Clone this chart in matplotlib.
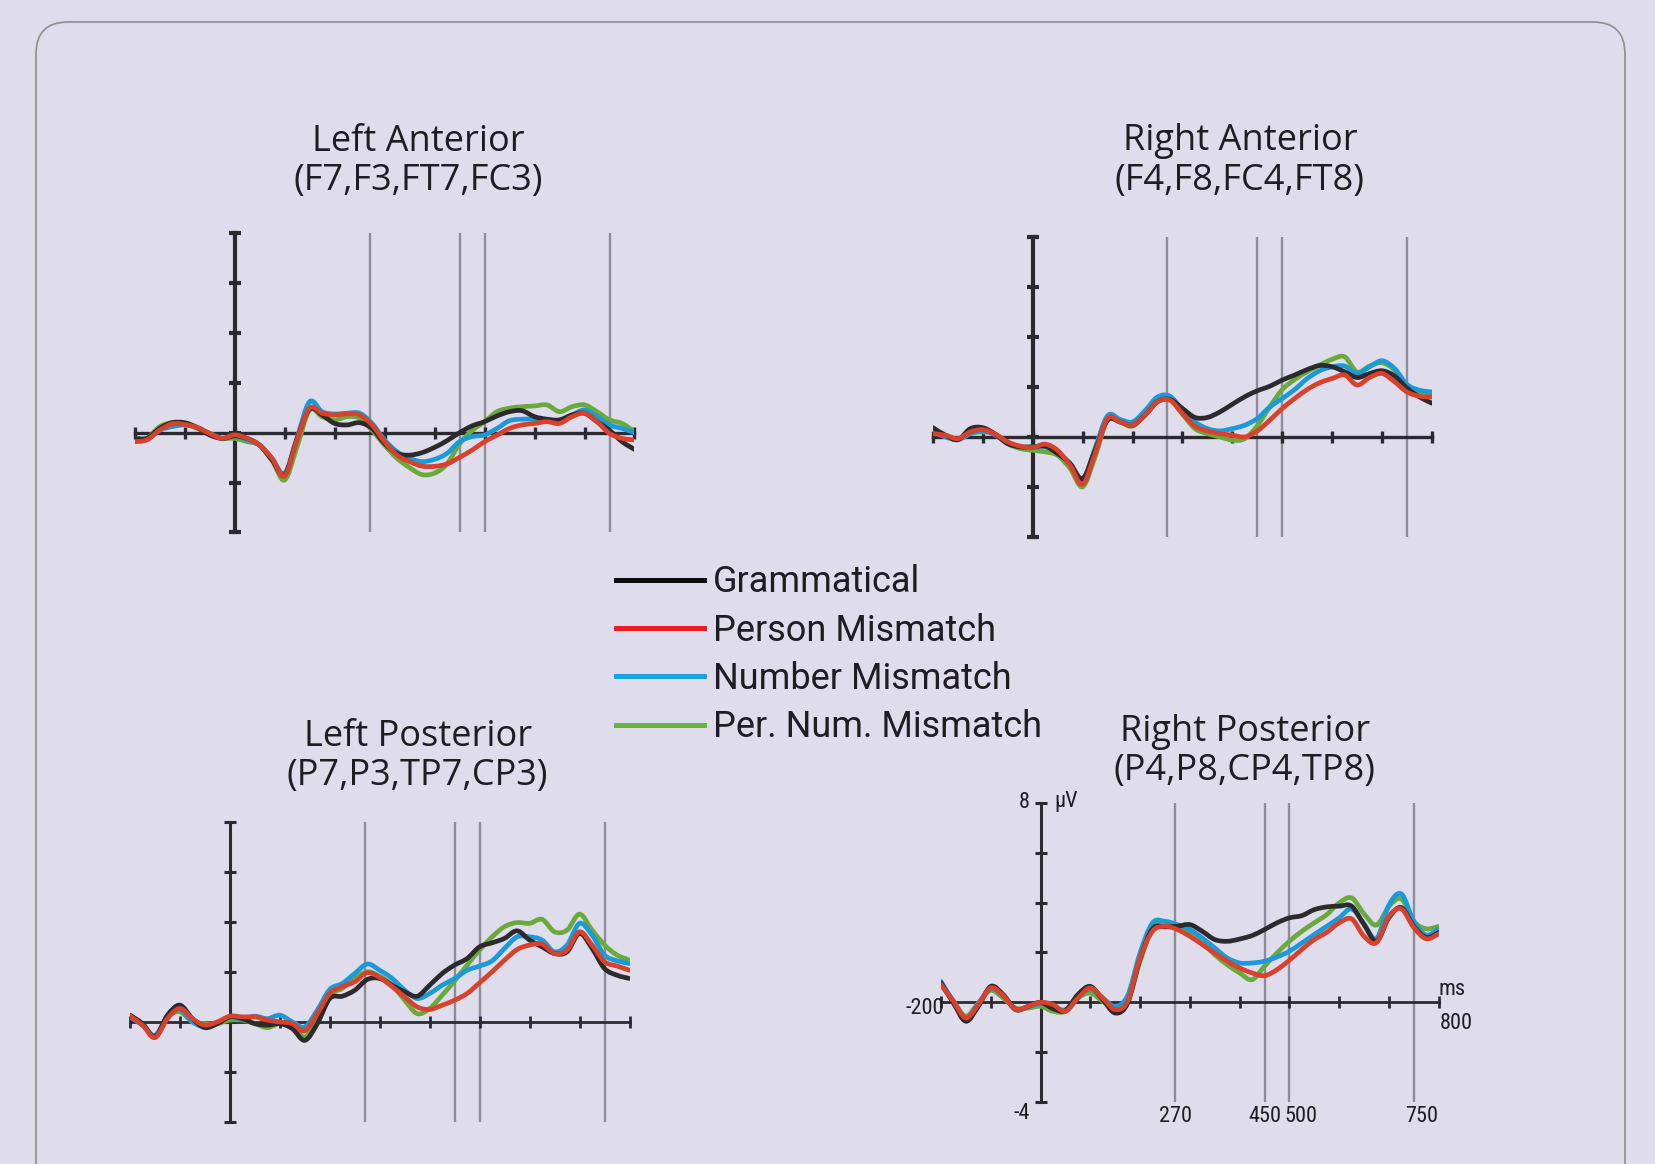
import matplotlib
matplotlib.use("Agg")
import matplotlib.pyplot as plt
from matplotlib import font_manager
from matplotlib.patches import FancyBboxPatch, PathPatch
from matplotlib.path import Path
from matplotlib.lines import Line2D

# ---------------------------------------------------------------- data
time_ms = list(range(-200, 801, 25))          # sample times (ms)
windows_ms = [270, 450, 500, 750]             # analysis window boundaries
y_ticks = [-4, -2, 0, 2, 4, 6, 8]             # µV
x_ticks = list(range(-200, 801, 100))         # ms

conditions = ["Grammatical", "Person Mismatch", "Number Mismatch",
              "Per. Num. Mismatch"]

# Left Anterior (F7,F3,FT7,FC3), µV
la_gram = [-0.23, -0.23, 0.17, 0.40, 0.40, 0.21, -0.09, -0.23,
           -0.13, -0.23, -0.50, -1.10, -1.70, -0.25, 0.94, 0.71,
           0.37, 0.31, 0.40, 0.17, -0.43, -0.83, -0.90, -0.80,
           -0.59, -0.32, 0.00, 0.27, 0.44, 0.67, 0.84, 0.88,
           0.64, 0.54, 0.51, 0.71, 0.78, 0.44, 0.10, -0.36, -0.67]
la_person = [-0.36, -0.29, 0.10, 0.35, 0.33, 0.21, -0.03, -0.23,
             -0.09, -0.23, -0.50, -1.03, -1.74, -0.30, 0.98, 0.78,
             0.71, 0.75, 0.71, 0.31, -0.36, -0.90, -1.16, -1.34,
             -1.35, -1.25, -0.99, -0.70, -0.36, -0.10, 0.17, 0.31,
             0.37, 0.44, 0.37, 0.64, 0.78, 0.44, -0.03, -0.23, -0.29]
la_number = [-0.23, -0.23, 0.10, 0.24, 0.31, 0.21, -0.03, -0.23,
             -0.13, -0.29, -0.50, -1.03, -1.63, -0.20, 1.24, 0.84,
             0.75, 0.78, 0.78, 0.37, -0.29, -0.76, -1.03, -1.16,
             -1.07, -0.83, -0.36, -0.16, -0.09, 0.17, 0.48, 0.54,
             0.54, 0.51, 0.51, 0.71, 0.91, 0.64, 0.31, 0.17, 0.00]
la_pernum = [-0.29, -0.23, 0.24, 0.40, 0.35, 0.17, -0.03, -0.23,
             -0.23, -0.36, -0.50, -1.10, -1.90, -0.56, 0.91, 0.64,
             0.51, 0.64, 0.58, 0.10, -0.50, -1.03, -1.40, -1.68,
             -1.62, -1.25, -0.45, 0.08, 0.44, 0.84, 0.98, 1.04,
             1.07, 1.11, 0.84, 1.04, 1.11, 0.84, 0.51, 0.37, 0.04]

# Right Anterior (F4,F8,FC4,FT8), µV
ra_gram = [0.37, 0.07, -0.11, 0.33, 0.37, 0.11, -0.27, -0.40,
           -0.40, -0.37, -0.67, -1.07, -1.67, -0.54, 0.67, 0.60,
           0.47, 0.87, 1.41, 1.50, 1.14, 0.78, 0.78, 1.00,
           1.31, 1.61, 1.85, 2.03, 2.28, 2.48, 2.70, 2.86,
           2.81, 2.61, 2.38, 2.54, 2.65, 2.44, 1.95, 1.60, 1.35]
ra_person = [0.13, 0.07, -0.07, 0.20, 0.29, 0.11, -0.20, -0.37,
             -0.43, -0.29, -0.54, -1.14, -1.90, -0.67, 0.74, 0.60,
             0.47, 0.87, 1.41, 1.47, 0.94, 0.43, 0.24, 0.13,
             0.07, 0.00, 0.24, 0.67, 1.14, 1.54, 1.90, 2.17,
             2.34, 2.48, 2.08, 2.38, 2.54, 2.21, 1.80, 1.63, 1.60]
ra_number = [0.20, 0.00, -0.11, 0.13, 0.24, 0.07, -0.27, -0.40,
             -0.40, -0.40, -0.64, -1.07, -1.74, -0.45, 0.85, 0.70,
             0.60, 1.05, 1.60, 1.63, 1.07, 0.60, 0.33, 0.24,
             0.33, 0.47, 0.74, 1.20, 1.54, 1.90, 2.34, 2.65,
             2.81, 2.84, 2.54, 2.81, 3.05, 2.74, 2.10, 1.87, 1.80]
ra_pernum = [0.20, 0.03, -0.11, 0.13, 0.20, 0.11, -0.27, -0.47,
             -0.54, -0.60, -0.74, -1.27, -2.00, -0.80, 0.70, 0.60,
             0.43, 0.91, 1.50, 1.50, 0.91, 0.33, 0.13, 0.00,
             -0.13, -0.07, 0.45, 1.20, 1.90, 2.30, 2.61, 2.88,
             3.11, 3.21, 2.60, 2.84, 2.97, 2.68, 2.05, 1.80, 1.74]

# Left Posterior (P7,P3,TP7,CP3), µV
lp_gram = [0.27, -0.07, -0.60, 0.27, 0.67, 0.13, -0.23, -0.07,
           0.20, 0.13, -0.07, -0.13, -0.07, -0.27, -0.74, -0.07,
           0.94, 1.03, 1.27, 1.70, 1.74, 1.47, 1.20, 1.03,
           1.47, 1.94, 2.28, 2.54, 3.01, 3.17, 3.35, 3.65,
           3.28, 3.01, 2.74, 2.81, 3.55, 2.95, 2.14, 1.87, 1.74]
lp_person = [0.23, -0.13, -0.63, 0.13, 0.54, 0.13, -0.13, 0.00,
             0.23, 0.20, 0.20, 0.07, 0.00, -0.07, -0.36, 0.33,
             1.14, 1.41, 1.61, 1.97, 1.78, 1.41, 1.00, 0.60,
             0.50, 0.67, 0.87, 1.14, 1.57, 2.01, 2.48, 2.90,
             3.08, 3.12, 2.74, 2.88, 3.61, 3.08, 2.41, 2.24, 2.07]
lp_number = [0.20, -0.13, -0.54, 0.20, 0.50, 0.00, -0.20, -0.04,
             0.20, 0.09, 0.23, 0.13, 0.27, 0.00, -0.20, 0.47,
             1.30, 1.54, 1.94, 2.32, 2.07, 1.74, 1.27, 0.94,
             1.14, 1.47, 1.74, 2.07, 2.24, 2.45, 2.95, 3.41,
             3.41, 3.28, 2.81, 3.08, 3.95, 3.48, 2.68, 2.45, 2.34]
lp_pernum = [0.20, -0.09, -0.58, 0.20, 0.40, 0.00, -0.07, -0.07,
             0.07, 0.07, -0.07, -0.23, -0.07, -0.20, -0.60, 0.07,
             1.07, 1.34, 1.74, 2.01, 1.83, 1.47, 0.87, 0.33,
             0.54, 1.07, 1.65, 2.28, 2.88, 3.41, 3.82, 3.98,
             3.95, 4.11, 3.61, 3.68, 4.32, 3.68, 3.08, 2.68, 2.48]

# Right Posterior (P4,P8,CP4,TP8), µV
rp_gram = [0.78, -0.03, -0.76, -0.16, 0.64, 0.31, -0.29, -0.16,
           0.00, -0.25, -0.33, 0.31, 0.64, 0.11, -0.43, -0.03,
           1.75, 2.95, 3.03, 3.05, 3.12, 2.85, 2.52, 2.45,
           2.54, 2.68, 2.92, 3.19, 3.39, 3.48, 3.72, 3.83,
           3.86, 3.86, 3.12, 2.45, 3.40, 3.80, 3.05, 2.60, 2.80]
rp_person = [0.71, 0.04, -0.63, -0.09, 0.58, 0.27, -0.29, -0.16,
             0.00, -0.09, -0.36, 0.17, 0.58, 0.17, -0.29, 0.04,
             1.78, 2.85, 3.05, 2.92, 2.65, 2.32, 1.98, 1.65,
             1.38, 1.18, 1.07, 1.31, 1.69, 2.12, 2.52, 2.81,
             3.19, 3.35, 2.65, 2.40, 3.45, 3.75, 3.00, 2.55, 2.75]
rp_number = [0.84, 0.04, -0.63, -0.03, 0.54, 0.27, -0.29, -0.19,
             -0.05, -0.19, -0.29, 0.24, 0.54, 0.17, -0.16, 0.27,
             1.98, 3.19, 3.25, 3.12, 2.92, 2.58, 2.18, 1.78,
             1.58, 1.58, 1.65, 1.82, 2.05, 2.38, 2.72, 3.05,
             3.39, 3.75, 3.15, 2.55, 3.90, 4.35, 3.25, 2.70, 2.95]
rp_pernum = [0.71, 0.04, -0.56, -0.03, 0.48, 0.17, -0.23, -0.23,
             -0.16, -0.36, -0.36, 0.17, 0.37, 0.04, -0.23, 0.11,
             1.65, 2.98, 3.19, 3.05, 2.78, 2.38, 1.91, 1.51,
             1.18, 0.91, 1.45, 1.98, 2.45, 2.85, 3.19, 3.52,
             3.99, 4.19, 3.55, 3.10, 3.85, 4.15, 3.25, 2.95, 3.05]

# ---------------------------------------------------------------- style
BG = "#dfdcec"
AXIS = "#2b2a30"
GRAY = "#8f8c9a"
TEXT = "#1f1d22"
curve_colors = ["#2d2a2e", "#d8412c", "#1a9ad8", "#6aaa3c"]
legend_colors = ["#0d0d0d", "#ee1c24", "#1ca4e2", "#6db33f"]
draw_order = [3, 2, 0, 1]   # green, blue, black, then red on top

TITLE_FONT = ["Open Sans", "DejaVu Sans"]
LEGEND_FONT = ["Roboto", "DejaVu Sans"]

# pick a narrow face for the small scale labels if one is installed
_installed = font_manager.fontManager.ttflist
_names = {f.name for f in _installed}
narrow = dict(family=["Roboto", "DejaVu Sans"], fontsize=13)
for cand in ["Liberation Sans Narrow", "Roboto Condensed",
             "Open Sans Condensed", "Noto Sans Condensed"]:
    if cand in _names:
        narrow = dict(family=[cand, "DejaVu Sans"], fontsize=16)
        break
else:
    if any(f.name == "DejaVu Sans" and f.stretch == "condensed"
           for f in _installed):
        narrow = dict(family=["DejaVu Sans"], fontstretch="condensed",
                      fontsize=14)

W, H = 1656, 1164
fig = plt.figure(figsize=(W / 100, H / 100), dpi=100)
fig.patch.set_facecolor(BG)

# rounded frame running off the bottom edge
frame = FancyBboxPatch((0.36, -1.0), 16.25 - 0.36, 11.42 + 1.0,
                       boxstyle="round,pad=0,rounding_size=0.32",
                       transform=fig.dpi_scale_trans, fill=False,
                       edgecolor="#8b9090", linewidth=1.2)
fig.add_artist(frame)


def px_rect(x0, x1, ytop, ybot):
    return [x0 / W, 1 - ybot / H, (x1 - x0) / W, (ybot - ytop) / H]


def smooth_curve(xs, ys):
    """Cubic Bezier path passing through every sample (Catmull-Rom handles)."""
    n = len(xs)
    verts = [(xs[0], ys[0])]
    codes = [Path.MOVETO]
    for i in range(n - 1):
        a = i - 1 if i > 0 else i
        d = i + 2 if i + 2 < n else i + 1
        c1 = (xs[i] + (xs[i + 1] - xs[a]) / 6, ys[i] + (ys[i + 1] - ys[a]) / 6)
        c2 = (xs[i + 1] - (xs[d] - xs[i]) / 6, ys[i + 1] - (ys[d] - ys[i]) / 6)
        verts += [c1, c2, (xs[i + 1], ys[i + 1])]
        codes += [Path.CURVE4] * 3
    return Path(verts, codes)


def panel(rect, series, title, sites, cx, base1, spine_lw):
    ax = fig.add_axes(px_rect(*rect))
    ax.set_xlim(-200, 800)
    ax.set_ylim(-4, 8)
    ax.patch.set_alpha(0)
    for s in ("top", "right"):
        ax.spines[s].set_visible(False)
    ax.spines["left"].set_position(("data", 0))
    ax.spines["bottom"].set_position(("data", 0))
    ax.spines["left"].set_linewidth(spine_lw[0])
    ax.spines["bottom"].set_linewidth(spine_lw[1])
    for s in ("left", "bottom"):
        ax.spines[s].set_color(AXIS)
    ax.set_xticks(x_ticks)
    ax.set_yticks(y_ticks)
    ax.tick_params(axis="y", direction="inout", length=9,
                   width=spine_lw[0], color=AXIS, labelleft=False)
    ax.tick_params(axis="x", direction="inout", length=9,
                   width=spine_lw[1], color=AXIS, labelbottom=False)
    ax.vlines(windows_ms, -4, 8, color=GRAY, lw=1.7, zorder=1)
    for i in draw_order:
        ax.add_patch(PathPatch(smooth_curve(time_ms, series[i]), fill=False,
                               edgecolor=curve_colors[i], lw=3.4, zorder=3,
                               capstyle="round", joinstyle="round"))
    fig.text(cx / W, 1 - base1 / H, title, ha="center", va="baseline",
             fontsize=26, color=TEXT, family=TITLE_FONT)
    fig.text(cx / W, 1 - (base1 + 39.5) / H, sites, ha="center",
             va="baseline", fontsize=26, color=TEXT, family=TITLE_FONT)
    return ax


panel((134.6, 634.5, 233, 532.5), [la_gram, la_person, la_number, la_pernum],
      "Left Anterior", "(F7,F3,FT7,FC3)", 418, 150.7, (3.0, 2.4))
panel((932.9, 1432, 237.3, 536.7), [ra_gram, ra_person, ra_number, ra_pernum],
      "Right Anterior", "(F4,F8,FC4,FT8)", 1240, 150.2, (3.0, 2.4))
panel((130, 629.5, 822.3, 1121.7), [lp_gram, lp_person, lp_number, lp_pernum],
      "Left Posterior", "(P7,P3,TP7,CP3)", 417.7, 745.7, (2.2, 2.0))
ax_rp = panel((941, 1438.7, 803, 1102),
              [rp_gram, rp_person, rp_number, rp_pernum],
              "Right Posterior", "(P4,P8,CP4,TP8)", 1244.6, 740.7, (2.2, 2.0))

# scale annotations on the right posterior panel
lab = dict(color=TEXT, clip_on=False, **narrow)
ax_rp.text(-22, 8.0, "8", ha="right", va="center", **lab)
ax_rp.text(28, 8.05, "µV", ha="left", va="center", **lab)
ax_rp.text(-22, -4.45, "-4", ha="right", va="center", **lab)
ax_rp.text(-194, -0.25, "-200", ha="right", va="center", **lab)
ax_rp.text(800, 0.5, "ms", ha="left", va="center", **lab)
ax_rp.text(803, -0.85, "800", ha="left", va="center", **lab)
label_nudge = [2, 0, 24, 16]   # ms, keeps the close window labels apart
for t, dx in zip(windows_ms, label_nudge):
    ax_rp.text(t + dx, -4.57, str(t), ha="center", va="center", **lab)

# legend
handles = [Line2D([], [], color=c, lw=3.6) for c in legend_colors]
fig.legend(handles, conditions, loc="center left",
           bbox_to_anchor=(616 / W, 1 - 654.75 / H), frameon=False,
           borderaxespad=0, borderpad=0, handlelength=2.44,
           handletextpad=0.25, labelspacing=0.34,
           prop={"family": LEGEND_FONT, "size": 26}, labelcolor=TEXT)

fig.savefig("out.png", dpi=100, facecolor=BG)
